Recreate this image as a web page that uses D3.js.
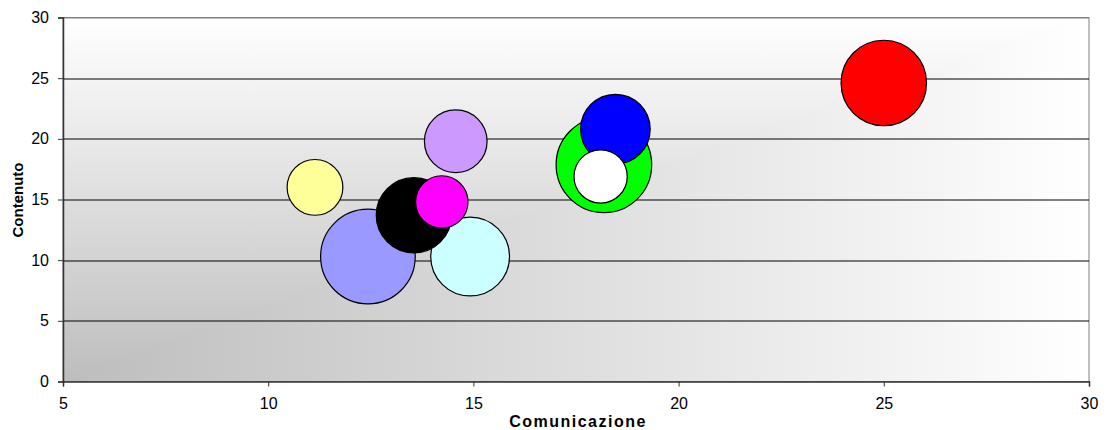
<!DOCTYPE html>
<html>
<head>
<meta charset="utf-8">
<script src="https://cdn.jsdelivr.net/npm/d3@7"></script>
<style>
    body { margin: 0; background: #ffffff; }
    #chart { display: block; }
    .axis-title { font-family: Arial, "Liberation Sans", sans-serif; font-weight: bold; fill: #000; }
</style>
</head>
<body>
<svg id="chart"></svg>
<script>
//----------------------------//
//            DATA            //
//----------------------------//
const comunicazione = [11.14, 12.43, 13.55, 14.23, 14.92, 14.57, 18.18, 18.46, 18.10, 25.0];
const contenuto     = [16.0, 10.3, 13.7, 14.8, 10.3, 19.8, 17.86, 20.8, 16.9, 24.6];
const bubbleSize    = [34, 98, 62, 30, 68, 43, 100, 53, 31, 80];
const bubbleColors  = ['#ffff99', '#9999ff', '#000000', '#ff00ff', '#ccffff',
                       '#cc99ff', '#00ff00', '#0000ff', '#ffffff', '#ff0000'];

const xTicks = [5, 10, 15, 20, 25, 30];
const yTicks = [0, 5, 10, 15, 20, 25, 30];

const xTitle = 'Comunicazione';
const yTitle = 'Contenuto';


// --- Plotting Module ---
function plotBubbles() {
    const W = 1106, H = 430;
    const margin = { top: 17.5, right: 17, bottom: 48.5, left: 63 };
    const width = W - margin.left - margin.right;
    const height = H - margin.top - margin.bottom;
    const font = 'Arial, "Liberation Sans", sans-serif';

    const svg = d3.select('#chart')
        .attr('width', W)
        .attr('height', H);

    const x = d3.scaleLinear().domain([5, 30]).range([0, width]);
    const y = d3.scaleLinear().domain([0, 30]).range([height, 0]);
    const r = d3.scaleSqrt().domain([0, d3.max(bubbleSize)]).range([0, 47.8]);

    // corner gradient: two linear ramps, the lighter one wins
    const defs = svg.append('defs');
    const gx = defs.append('linearGradient').attr('id', 'gradX')
        .attr('x1', 0).attr('y1', 0).attr('x2', 1).attr('y2', 0);
    gx.append('stop').attr('offset', 0).attr('stop-color', '#bdbdbd');
    gx.append('stop').attr('offset', 1).attr('stop-color', '#ffffff');
    const gy = defs.append('linearGradient').attr('id', 'gradY')
        .attr('x1', 0).attr('y1', 1).attr('x2', 0).attr('y2', 0);
    gy.append('stop').attr('offset', 0).attr('stop-color', '#bdbdbd');
    gy.append('stop').attr('offset', 1).attr('stop-color', '#ffffff');

    const g = svg.append('g')
        .attr('transform', `translate(${margin.left},${margin.top})`);

    const bg = g.append('g').style('isolation', 'isolate');
    bg.append('rect')
        .attr('width', width).attr('height', height)
        .attr('fill', 'url(#gradX)');
    bg.append('rect')
        .attr('width', width).attr('height', height)
        .attr('fill', 'url(#gradY)')
        .style('mix-blend-mode', 'lighten');

    // plot border
    g.append('rect')
        .attr('width', width).attr('height', height)
        .attr('fill', 'none')
        .attr('stroke', '#808080')
        .attr('stroke-width', 1);

    // gridlines
    g.append('g')
        .selectAll('line')
        .data(yTicks.filter(d => d > 0))
        .enter()
        .append('line')
        .attr('x1', 0).attr('x2', width)
        .attr('y1', d => Math.round(y(d)) + 0.5)
        .attr('y2', d => Math.round(y(d)) + 0.5)
        .attr('stroke', d => d === 30 ? '#808080' : '#000')
        .attr('stroke-width', 1);

    // axes
    const xAxis = g.append('g')
        .attr('transform', `translate(0,${height})`)
        .call(d3.axisBottom(x).tickValues(xTicks).tickSize(5).tickPadding(11));
    xAxis.select('.domain').attr('stroke', '#333').attr('stroke-width', 1.5);
    xAxis.selectAll('.tick line').attr('stroke', '#333');

    const yAxis = g.append('g')
        .call(d3.axisLeft(y).tickValues(yTicks).tickSize(5).tickPadding(9));
    yAxis.select('.domain').attr('stroke', '#333').attr('stroke-width', 1.5);
    yAxis.selectAll('.tick line').attr('stroke', '#333');

    [xAxis, yAxis].forEach(ax => {
        ax.attr('font-family', font).attr('font-size', 16);
        ax.selectAll('.tick text').attr('fill', '#000');
    });

    // bubbles, biggest first so the small ones stay on top
    const points = comunicazione.map((v, i) => ({
        x: v, y: contenuto[i], size: bubbleSize[i], color: bubbleColors[i]
    })).sort((a, b) => b.size - a.size);

    g.selectAll('.bubble')
        .data(points)
        .enter()
        .append('circle')
        .attr('class', 'bubble')
        .attr('cx', d => x(d.x))
        .attr('cy', d => y(d.y))
        .attr('r', d => r(d.size))
        .attr('fill', d => d.color)
        .attr('stroke', '#000')
        .attr('stroke-width', 1.2);

    // titles
    svg.append('text')
        .attr('class', 'axis-title')
        .attr('x', 578)
        .attr('y', 427)
        .attr('text-anchor', 'middle')
        .attr('font-size', 16)
        .style('letter-spacing', '1.5px')
        .text(xTitle);

    svg.append('text')
        .attr('class', 'axis-title')
        .attr('transform', 'translate(23,200) rotate(-90)')
        .attr('text-anchor', 'middle')
        .attr('font-size', 15)
        .text(yTitle);
}

// --- Main Execution ---
document.addEventListener('DOMContentLoaded', () => {
    plotBubbles();
});
</script>
</body>
</html>
